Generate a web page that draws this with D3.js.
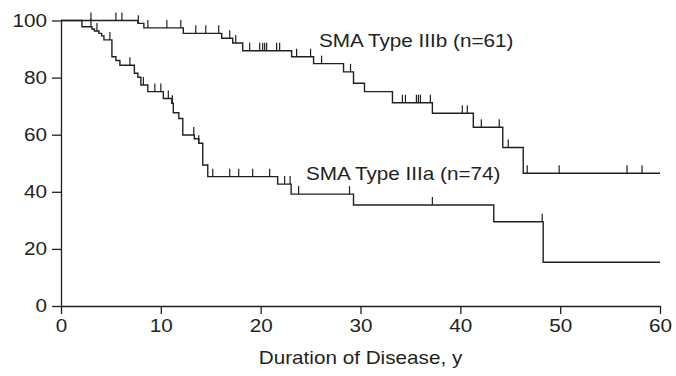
<!DOCTYPE html>
<html>
<head>
<meta charset="utf-8">
<script src="https://cdn.jsdelivr.net/npm/d3@7"></script>
<style>
  html, body { margin: 0; padding: 0; background: #fff; }
  text { font-family: "Liberation Sans", Arial, sans-serif; fill: #231f20; }
</style>
</head>
<body>
<div id="chart"></div>
<script>
// axis ticks
const xTicks = [0, 10, 20, 30, 40, 50, 60];
const yTicks = [0, 20, 40, 60, 80, 100];

// SMA Type IIIb (n=61): step times (y) and survival (%)
const iiibTimes = [0, 7.7, 8.3, 12.25, 16.1, 17.2, 18.2, 23.1, 25.3, 28.3, 29.3, 30.4, 33.2, 37.2, 41.3, 44.25, 46.3];
const iiibSurv  = [100, 99.0, 97.4, 95.5, 93.8, 92.1, 89.4, 87.3, 84.9, 82.0, 78.0, 75.1, 71.2, 67.5, 62.6, 55.5, 46.5];
const iiibCensor = [3.0, 5.5, 6.1, 7.75, 8.7, 10.6, 12.0, 13.5, 14.5, 15.8, 16.9, 17.5, 18.9, 19.9, 20.2, 20.4, 20.6,
  21.6, 21.9, 23.6, 25.0, 26.1, 29.0, 34.2, 34.5, 35.6, 35.8, 36.0, 37.0, 40.2, 40.7, 42.1, 43.9, 44.8, 46.7, 49.9, 56.7, 58.2];

// SMA Type IIIa (n=74)
const iiiaTimes = [0, 2.1, 3.1, 3.35, 3.8, 4.07, 4.3, 5.1, 5.5, 5.9, 7.35, 7.7, 8.0, 8.7, 10.25, 11.1, 11.25, 11.8,
  12.2, 13.35, 13.8, 14.2, 14.7, 21.7, 23.05, 29.3, 43.35, 48.3];
const iiiaSurv  = [100, 97.8, 97.0, 96.3, 95.5, 94.6, 93.2, 87.3, 86.0, 84.3, 81.5, 80.1, 77.4, 75.1, 72.7, 71.0, 67.7, 65.7,
  59.9, 58.6, 57.0, 49.4, 45.3, 42.7, 39.2, 35.4, 29.5, 15.3];
const iiiaCensor = [3.0, 3.6, 4.9, 6.9, 8.25, 9.4, 10.0, 10.75, 11.15, 13.3, 13.8, 15.2, 16.9, 17.8, 19.2, 20.9, 22.4,
  22.95, 23.8, 28.9, 37.2, 48.2];

const groupNames = ["SMA Type IIIb (n=61)", "SMA Type IIIa (n=74)"];

const width = 676, height = 376;
const sx = 1.15;
const stretch = `scale(${sx},1)`;
const fontSize = "18px";

const svg = d3.select("#chart").append("svg")
  .attr("width", width)
  .attr("height", height);

const x = d3.scaleLinear().domain([0, 60]).range([61, 660]);
const y = d3.scaleLinear().domain([0, 100]).range([306, 20.5]);

// axes
const xAxis = svg.append("g")
  .attr("transform", `translate(0,${y(0)})`)
  .call(d3.axisBottom(x).tickValues(xTicks).tickSize(8).tickPadding(5).tickSizeOuter(0));
const yAxis = svg.append("g")
  .attr("transform", `translate(${x(0)},0)`)
  .call(d3.axisLeft(y).tickValues(yTicks).tickSize(9).tickPadding(5).tickSizeOuter(0));

[xAxis, yAxis].forEach(a => {
  a.select(".domain").attr("stroke", "#231f20").attr("stroke-width", 1.3);
  a.selectAll(".tick line").attr("stroke", "#231f20").attr("stroke-width", 1.3);
  a.selectAll(".tick text")
    .attr("transform", stretch)
    .style("font-size", fontSize)
    .attr("fill", "#231f20");
});
yAxis.selectAll(".tick text").attr("x", -14 / sx);

svg.append("text")
  .attr("transform", `translate(${x(30)},364) ${stretch}`)
  .attr("text-anchor", "middle")
  .style("font-size", fontSize)
  .text("Duration of Disease, y");

function stepAt(times, surv, t) {
  let v = surv[0];
  for (let i = 0; i < times.length; i++) if (times[i] <= t) v = surv[i];
  return v;
}

function drawCurve(times, surv, censor) {
  const pts = times.map((t, i) => [t, surv[i]]);
  pts.push([60, surv[surv.length - 1]]);
  svg.append("path")
    .datum(pts)
    .attr("fill", "none")
    .attr("stroke", "#231f20")
    .attr("stroke-width", 1.4)
    .attr("d", d3.line().x(d => x(d[0])).y(d => y(d[1])).curve(d3.curveStepAfter));

  svg.append("g")
    .selectAll("line")
    .data(censor)
    .join("line")
      .attr("x1", d => x(d))
      .attr("x2", d => x(d))
      .attr("y1", d => y(stepAt(times, surv, d)))
      .attr("y2", d => y(stepAt(times, surv, d)) - 8)
      .attr("stroke", "#231f20")
      .attr("stroke-width", 1.2);
}

drawCurve(iiibTimes, iiibSurv, iiibCensor);
drawCurve(iiiaTimes, iiiaSurv, iiiaCensor);

// curve labels
svg.append("text")
  .attr("transform", `translate(319,47) ${stretch}`)
  .style("font-size", fontSize)
  .text(groupNames[0]);
svg.append("text")
  .attr("transform", `translate(306,180) ${stretch}`)
  .style("font-size", fontSize)
  .text(groupNames[1]);
</script>
</body>
</html>
